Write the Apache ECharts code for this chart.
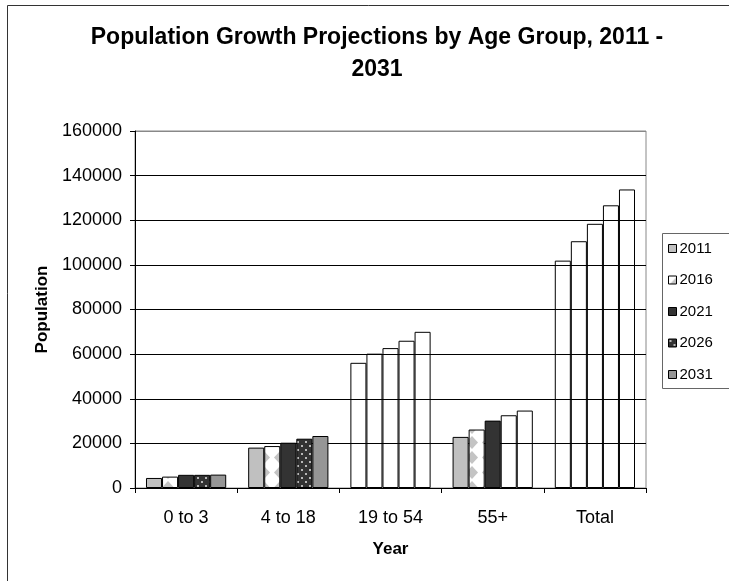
<!DOCTYPE html>
<html>
<head>
<meta charset="utf-8">
<script src="https://cdn.jsdelivr.net/npm/echarts@6/dist/echarts.min.js"></script>
<style>
  html, body { margin: 0; padding: 0; background: #fff; }
  #chart { width: 729px; height: 581px; }
</style>
</head>
<body>
<div id="chart"></div>
<script>
// Age groups along the x axis
const categories = ['0 to 3', '4 to 18', '19 to 54', '55+', 'Total'];
// Projection years (one series each)
const years = ['2011', '2016', '2021', '2026', '2031'];
// Population per age group, one array per year
const pop2011 = [4500, 18100, 56100, 22900, 101900];
const pop2016 = [5100, 18800, 60200, 26200, 110600];
const pop2021 = [5900, 20300, 62700, 30200, 118400];
const pop2026 = [5900, 22100, 66000, 32600, 126700];
const pop2031 = [6000, 23300, 70000, 34700, 133800];
// Bars drawn as outlines only (no fill): [series index][category index]
const hollow = [
  [false, false, true, false, true],
  [false, false, true, false, true],
  [false, false, true, false, true],
  [false, false, true, true, true],
  [false, false, true, true, true]
];
const yTicks = [0, 20000, 40000, 60000, 80000, 100000, 120000, 140000, 160000];

const FONT = "'Liberation Sans', Arial, sans-serif";

// Fill patterns
function diamondPattern() {
  const c = document.createElement('canvas');
  c.width = 16; c.height = 15;
  const g = c.getContext('2d');
  g.fillStyle = '#ffffff';
  g.fillRect(0, 0, 16, 15);
  g.fillStyle = '#c4c4c4';
  g.beginPath();
  g.moveTo(8, 1); g.lineTo(14, 7.5); g.lineTo(8, 14); g.lineTo(2, 7.5);
  g.closePath();
  g.fill();
  return { image: c, repeat: 'repeat' };
}
function dotPattern() {
  const c = document.createElement('canvas');
  c.width = 8; c.height = 8;
  const g = c.getContext('2d');
  g.fillStyle = '#333333';
  g.fillRect(0, 0, 8, 8);
  g.fillStyle = '#b8b8b8';
  g.fillRect(1, 1, 2, 2);
  g.fillRect(5, 5, 2, 2);
  return { image: c, repeat: 'repeat' };
}

const fills = ['#c0c0c0', diamondPattern(), '#333333', dotPattern(), '#969696'];
const values = [pop2011, pop2016, pop2021, pop2026, pop2031];

const series = years.map((yr, i) => ({
  name: yr,
  type: 'bar',
  barGap: '0%',
  barCategoryGap: '21.5%',
  itemStyle: { color: fills[i], borderColor: '#000', borderWidth: 1 },
  data: values[i].map((v, j) => hollow[i][j]
    ? { value: v, itemStyle: { color: 'rgba(255,255,255,0)' } }
    : v),
  emphasis: { disabled: true }
}));

// top gridline doubles as the grey plot-area border
const gridColors = yTicks.map((t, k) => k === yTicks.length - 1 ? '#888' : '#000');

const chart = echarts.init(document.getElementById('chart'), null, { renderer: 'canvas' });
chart.setOption({
  animation: false,
  backgroundColor: '#ffffff',
  textStyle: { fontFamily: FONT },
  graphic: [
    // outer chart frame (runs past the right and bottom edges)
    { type: 'rect', shape: { x: 7.5, y: 5.5, width: 800, height: 700 },
      style: { fill: 'none', stroke: '#333', lineWidth: 1 }, z: -1 },
    // legend box
    { type: 'rect', shape: { x: 662.5, y: 233.5, width: 90, height: 155 },
      style: { fill: '#fff', stroke: '#666', lineWidth: 1 }, z: 0 }
  ],
  title: {
    text: 'Population Growth Projections by Age Group, 2011 -\n2031',
    left: 372, textAlign: 'center', top: 17,
    textStyle: { fontFamily: FONT, fontSize: 23, fontWeight: 'bold', color: '#000', lineHeight: 32 }
  },
  legend: {
    orient: 'vertical',
    left: 663, top: 236,
    itemWidth: 8, itemHeight: 8,
    itemGap: 16.5,
    icon: 'rect',
    selectedMode: false,
    data: years,
    itemStyle: { borderColor: '#000', borderWidth: 1 },
    textStyle: { fontFamily: FONT, fontSize: 15, color: '#000', padding: [0, 0, 0, -2] },
    z: 5
  },
  grid: {
    left: 135, top: 131, right: 83, bottom: 93,
    show: true, borderColor: '#888', borderWidth: 1, backgroundColor: 'transparent'
  },
  xAxis: {
    type: 'category',
    data: categories,
    name: 'Year',
    nameLocation: 'middle',
    nameGap: 53,
    nameTextStyle: { fontFamily: FONT, fontSize: 17, fontWeight: 'bold', color: '#000' },
    axisLine: { lineStyle: { color: '#000', width: 1 } },
    axisTick: { show: true, length: 5, lineStyle: { color: '#000' } },
    axisLabel: { fontFamily: FONT, fontSize: 18, color: '#000', margin: 21 },
    splitLine: { show: false }
  },
  yAxis: {
    type: 'value',
    min: 0, max: 160000, interval: 20000,
    name: 'Population',
    nameLocation: 'middle',
    nameGap: 84,
    nameTextStyle: { fontFamily: FONT, fontSize: 17, fontWeight: 'bold', color: '#000' },
    axisLine: { show: true, lineStyle: { color: '#000', width: 1 } },
    axisTick: { show: true, length: 5, lineStyle: { color: '#000' } },
    axisLabel: {
      fontFamily: FONT, fontSize: 18, color: '#000', margin: 13,
      formatter: v => yTicks.includes(v) ? String(v) : ''
    },
    splitLine: { show: true, lineStyle: { color: gridColors, width: 1 } }
  },
  series: series
});
</script>
</body>
</html>
